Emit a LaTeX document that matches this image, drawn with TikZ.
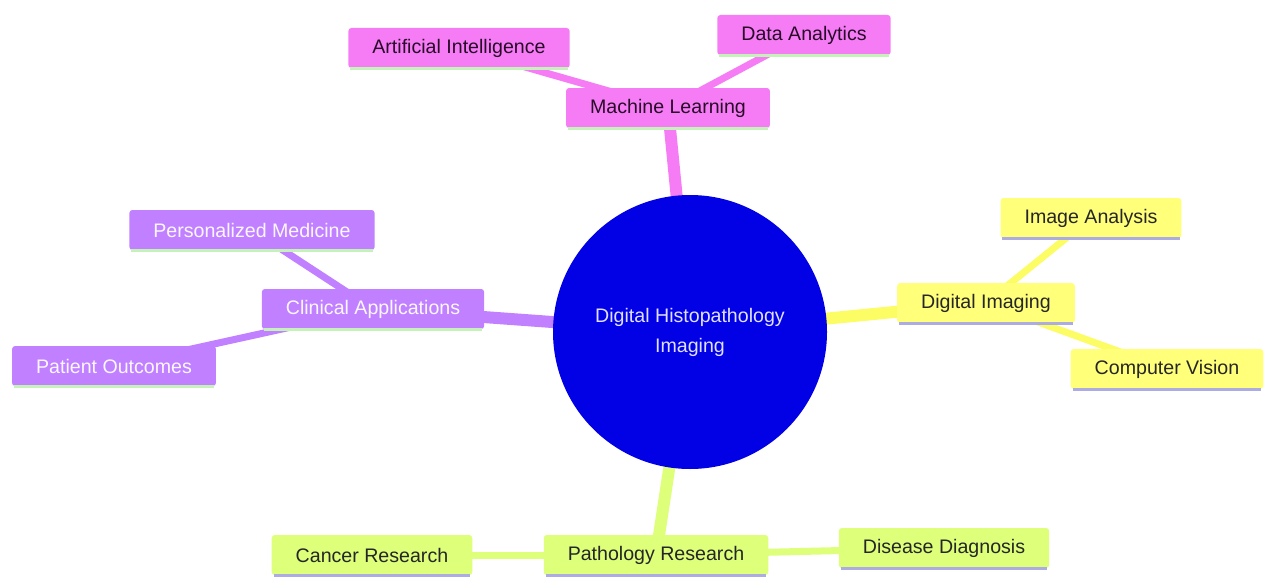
\documentclass[tikz,border=0pt]{standalone}
\usepackage{fontspec}
\setmainfont{Liberation Sans}
\usetikzlibrary{backgrounds}

\definecolor{pinkfill}{RGB}{246,124,246}
\definecolor{yellowfill}{RGB}{255,255,122}
\definecolor{yellowedge}{RGB}{252,252,100}
\definecolor{purplefill}{RGB}{192,128,255}
\definecolor{greenfill}{RGB}{221,255,122}
\definecolor{rootblue}{RGB}{2,0,228}
\definecolor{mintline}{RGB}{196,242,184}
\definecolor{lavline}{RGB}{172,172,226}
\definecolor{darktext}{RGB}{40,10,40}

\begin{document}
\begin{tikzpicture}[x=1pt, y=-1pt,
  box/.style 2 args = {rectangle, rounded corners=3pt, fill=#1, minimum height=40pt,
    inner xsep=24pt, font=\fontsize{19.6}{21}\selectfont,
    append after command={(\tikzlastnode.south west) edge[draw=#2, line width=3pt, shorten <=2pt, shorten >=2pt] (\tikzlastnode.south east)}},
  trunk/.style = {line width=12pt, draw=#1},
  twig/.style = {line width=7pt, draw=#1}]

\useasboundingbox (0,0) rectangle (1266,578);

%% root
\node[circle, fill=rootblue, minimum size=274pt, text=white!88!blue, align=center,
  font=\fontsize{19.6}{30}\selectfont] (root) at (690,332) {Digital Histopathology\\Imaging};

%% machine learning branch
\node[box={pinkfill}{mintline}, text=darktext] (ml) at (668,108) {Machine Learning};
\node[box={pinkfill}{mintline}, text=darktext] (ai) at (459,48) {Artificial Intelligence};
\node[box={pinkfill}{mintline}, text=darktext] (da) at (804,35) {Data Analytics};

%% digital imaging branch
\node[box={yellowfill}{lavline}, text=black!85] (di) at (986,303) {Digital Imaging};
\node[box={yellowfill}{lavline}, text=black!85] (ia) at (1091,218) {Image Analysis};
\node[box={yellowfill}{lavline}, text=black!85] (cv) at (1167,369) {Computer Vision};

%% clinical branch
\node[box={purplefill}{mintline}, text=white!94!purplefill] (ca) at (373,309) {Clinical Applications};
\node[box={purplefill}{mintline}, text=white!94!purplefill] (pm) at (252,230) {Personalized Medicine};
\node[box={purplefill}{mintline}, text=white!94!purplefill] (po) at (114,366) {Patient Outcomes};

%% pathology branch
\node[box={greenfill}{lavline}, text=black!85] (pr) at (656,555) {Pathology Research};
\node[box={greenfill}{lavline}, text=black!85] (cr) at (372,555) {Cancer Research};
\node[box={greenfill}{lavline}, text=black!85] (dd) at (944,548) {Disease Diagnosis};

%%% edges
\begin{scope}[on background layer]
\draw[trunk=pinkfill] (root.center) -- (ml.center);
\draw[trunk=yellowedge] (root.center) -- (di.center);
\draw[trunk=purplefill] (root.center) -- (ca.center);
\draw[trunk=greenfill] (root.center) -- (pr.center);
\draw[twig=pinkfill] (ml.center) -- (ai.center);
\draw[twig=pinkfill] (ml.center) -- (da.center);
\draw[twig=yellowedge] (di.center) -- (ia.center);
\draw[twig=yellowedge] (di.center) -- (cv.center);
\draw[twig=purplefill] (ca.center) -- (pm.center);
\draw[twig=purplefill] (ca.center) -- (po.center);
\draw[twig=greenfill] (pr.center) -- (cr.center);
\draw[twig=greenfill] (pr.center) -- (dd.center);
\end{scope}

\end{tikzpicture}
\end{document}
